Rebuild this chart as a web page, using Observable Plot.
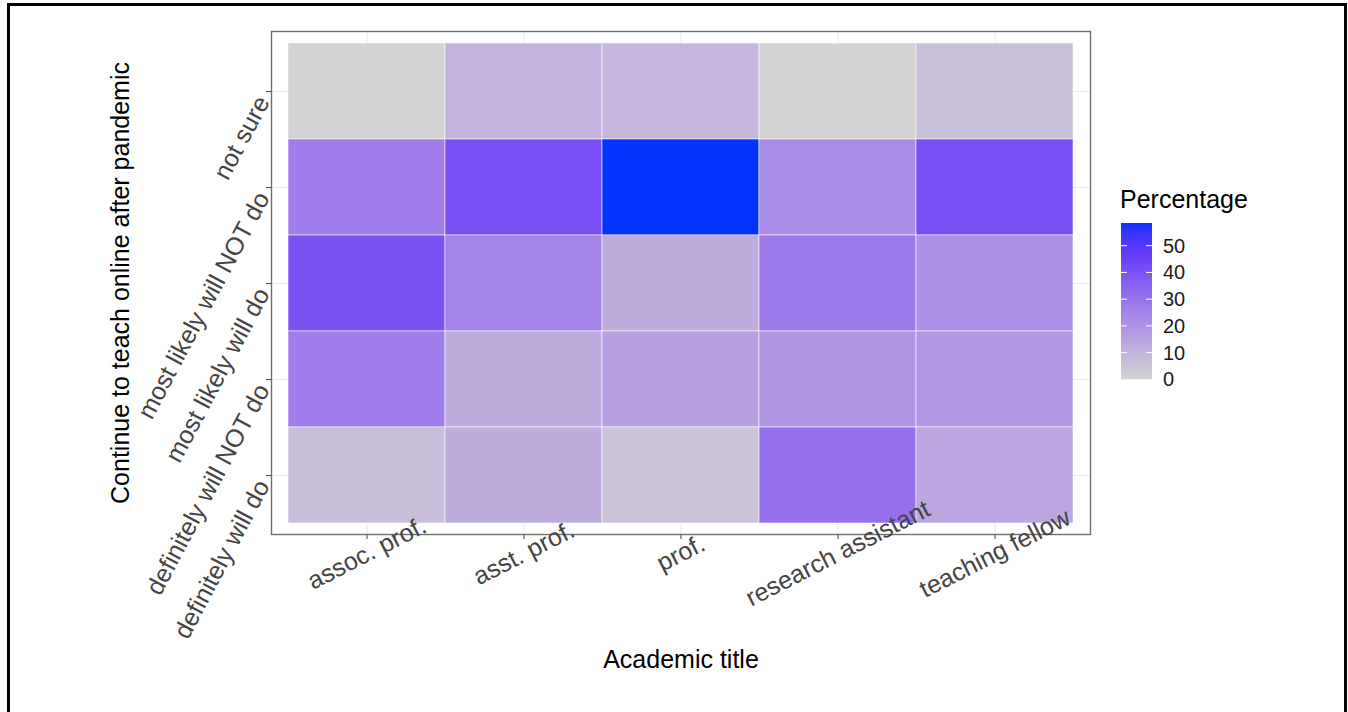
<!DOCTYPE html>
<html>
<head>
<meta charset="utf-8">
<script src="https://cdn.jsdelivr.net/npm/d3@7"></script>
<script src="https://cdn.jsdelivr.net/npm/@observablehq/plot@0.6"></script>
<style>
html, body { margin: 0; padding: 0; background: #fff; overflow: hidden; }
#wrap { position: relative; width: 1348px; height: 712px; font-family: "Liberation Sans", Arial, sans-serif; }
#chart { position: absolute; left: 0; top: 0; }
#legend { position: absolute; left: 0; top: 0; }
#frame { position: absolute; left: 7px; top: 3px; width: 1340px; height: 780px; border: 3px solid #000; box-sizing: border-box; pointer-events: none; }
</style>
</head>
<body>
<div id="wrap">
  <div id="chart"></div>
  <svg id="legend" width="1348" height="712"></svg>
  <div id="frame"></div>
</div>
<script>
// Categories
const titles = ["assoc. prof.", "asst. prof.", "prof.", "research assistant", "teaching fellow"];
// top to bottom
const responses = ["not sure", "most likely will NOT do", "most likely will do", "definitely will NOT do", "definitely will do"];
// Percentages per academic title (same order as responses)
const assocProf    = [0,   26.7, 40,   26.7, 6.7];
const asstProf     = [10,  41,   25,   12,   12];
const prof         = [8.5, 58.5, 12,   16,   5];
const researchAsst = [0,   22,   28,   19,   31];
const teachFellow  = [6,   41,   21,   18,   14];
const seriesByTitle = [assocProf, asstProf, prof, researchAsst, teachFellow];
// Legend tick labels
const legendTicks = [0, 10, 20, 30, 40, 50];
const xTitle = "Academic title";
const yTitle = "Continue to teach online after pandemic";
const legendTitle = "Percentage";

const data = [];
titles.forEach((t, i) => responses.forEach((r, j) => data.push({title: t, response: r, pct: seriesByTitle[i][j]})));
const maxVal = d3.max(data, d => d.pct);

// low grey to high blue, Lab interpolation (as a gradient fill)
const lowCol = "#D3D3D3", highCol = "#0000FF";
const knee = 0.8;
const kneeCol = d3.interpolateLab(lowCol, highCol)(knee);

const font = "Liberation Sans, Arial, sans-serif";
const chart = Plot.plot({
  width: 1348,
  height: 712,
  marginLeft: 271,
  marginRight: 258,
  marginTop: 31,
  marginBottom: 178,
  style: {fontFamily: font, background: "transparent", overflow: "visible"},
  x: {domain: titles, paddingInner: 0, paddingOuter: 0.1, axis: null},
  y: {domain: responses, paddingInner: 0, paddingOuter: 0.1, axis: null},
  color: {type: "linear", domain: [0, knee * maxVal, maxVal], range: [lowCol, kneeCol, "#0433FF"], interpolate: "lab"},
  marks: [
    Plot.gridX({stroke: "#EBEBEB", strokeOpacity: 1, strokeWidth: 1.1}),
    Plot.gridY({stroke: "#EBEBEB", strokeOpacity: 1, strokeWidth: 1.1}),
    Plot.cell(data, {x: "title", y: "response", fill: "pct", stroke: "white", strokeWidth: 0.8, strokeOpacity: 0.7, inset: 0}),
    Plot.frame({stroke: "#6E6E6E", strokeWidth: 1.4}),
    Plot.axisX({anchor: "bottom", tickSize: 5, stroke: "#555", strokeWidth: 1.1, tickFormat: () => "", label: null}),
    Plot.axisY({anchor: "left", tickSize: 5, stroke: "#555", strokeWidth: 1.1, tickFormat: () => "", label: null}),
    Plot.text(titles, {x: d => d, frameAnchor: "bottom", dy: 19, rotate: -27, textAnchor: "middle", lineAnchor: "middle", fontSize: 25, fill: "#444"}),
    Plot.text(responses, {y: d => d, frameAnchor: "left", dx: -17, dy: 2, rotate: -62, textAnchor: "end", lineAnchor: "top", fontSize: 25, fill: "#444"}),
    Plot.text([xTitle], {frameAnchor: "bottom", dy: 133, fontSize: 25, fill: "#000"}),
    Plot.text([yTitle], {frameAnchor: "left", dx: -151, rotate: -90, textAnchor: "middle", lineAnchor: "middle", fontSize: 25, fill: "#000"})
  ]
});
document.getElementById("chart").appendChild(chart);

// Vertical colour bar legend using the chart's own colour scale
const colorScale = Plot.scale({color: chart.scale("color")});
const svg = d3.select("#legend");
const barX = 1121, barW = 31, barTop = 223, barBottom = 379.3;
const ly = d3.scaleLinear().domain([0, maxVal]).range([barBottom, barTop]);
const grad = svg.append("defs").append("linearGradient")
  .attr("id", "lg").attr("x1", 0).attr("y1", 1).attr("x2", 0).attr("y2", 0);
d3.range(0, 1.0001, 0.05).forEach(t => {
  grad.append("stop").attr("offset", t).attr("stop-color", colorScale.apply(t * maxVal));
});
svg.append("rect").attr("x", barX).attr("y", barTop).attr("width", barW).attr("height", barBottom - barTop).attr("fill", "url(#lg)");
legendTicks.forEach(v => {
  const y = ly(v);
  if (v > 0) {
    svg.append("line").attr("x1", barX).attr("x2", barX + 6).attr("y1", y).attr("y2", y).attr("stroke", "white").attr("stroke-width", 1);
    svg.append("line").attr("x1", barX + barW - 6).attr("x2", barX + barW).attr("y1", y).attr("y2", y).attr("stroke", "white").attr("stroke-width", 1);
  }
  svg.append("text").attr("x", 1163).attr("y", y).attr("dy", "0.35em")
    .attr("font-family", font).attr("font-size", 20).attr("fill", "#1A1A1A").text(v);
});
svg.append("text").attr("x", 1120).attr("y", 208).attr("font-family", font).attr("font-size", 25).attr("fill", "#000").text(legendTitle);
</script>
</body>
</html>
